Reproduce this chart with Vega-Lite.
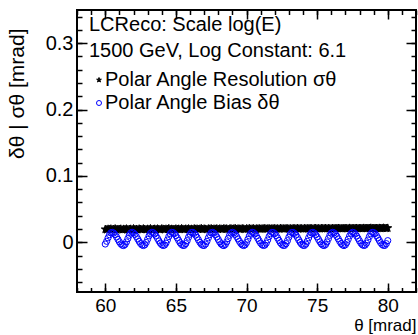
{
  "$schema": "https://vega.github.io/schema/vega-lite/v6.json",
  "width": 339,
  "height": 282,
  "autosize": {"type": "none"},
  "padding": {"left": 77, "top": 10, "right": 2, "bottom": 43},
  "background": "white",
  "config": {
    "view": {"stroke": "black", "strokeWidth": 2},
    "font": "Liberation Sans",
    "axis": {"grid": false, "domain": false, "tickColor": "black", "tickWidth": 1.5, "labelFont": "Liberation Sans", "labelFontSize": 20, "labelColor": "black", "titleFont": "Liberation Sans", "titleFontSize": 21, "titleFontWeight": "normal", "titleColor": "black"}
  },
  "data": {"values": [
{"t":60.0,"res":0.0195,"bias":-0.0027},{"t":60.1,"res":0.0188,"bias":0.0014},{"t":60.2,"res":0.0199,"bias":0.0066},{"t":60.3,"res":0.0192,"bias":0.0113},{"t":60.4,"res":0.0201,"bias":0.0143},
{"t":60.5,"res":0.0190,"bias":0.0149},{"t":60.6,"res":0.0196,"bias":0.0138},{"t":60.7,"res":0.0203,"bias":0.0114},{"t":60.8,"res":0.0189,"bias":0.0080},{"t":60.9,"res":0.0197,"bias":0.0043},
{"t":61.0,"res":0.0193,"bias":0.0006},{"t":61.1,"res":0.0200,"bias":-0.0025},{"t":61.2,"res":0.0187,"bias":-0.0044},{"t":61.3,"res":0.0198,"bias":-0.0050},{"t":61.4,"res":0.0194,"bias":-0.0034},
{"t":61.5,"res":0.0202,"bias":0.0005},{"t":61.6,"res":0.0191,"bias":0.0055},{"t":61.7,"res":0.0196,"bias":0.0104},{"t":61.8,"res":0.0199,"bias":0.0139},{"t":61.9,"res":0.0190,"bias":0.0150},
{"t":62.0,"res":0.0204,"bias":0.0141},{"t":62.1,"res":0.0193,"bias":0.0119},{"t":62.2,"res":0.0197,"bias":0.0087},{"t":62.3,"res":0.0189,"bias":0.0050},{"t":62.4,"res":0.0201,"bias":0.0013},
{"t":62.5,"res":0.0195,"bias":-0.0019},{"t":62.6,"res":0.0192,"bias":-0.0041},{"t":62.7,"res":0.0203,"bias":-0.0050},{"t":62.8,"res":0.0196,"bias":-0.0039},{"t":62.9,"res":0.0190,"bias":-0.0004},
{"t":63.0,"res":0.0199,"bias":0.0045},{"t":63.1,"res":0.0194,"bias":0.0095},{"t":63.2,"res":0.0205,"bias":0.0134},{"t":63.3,"res":0.0191,"bias":0.0150},{"t":63.4,"res":0.0197,"bias":0.0144},
{"t":63.5,"res":0.0200,"bias":0.0125},{"t":63.6,"res":0.0193,"bias":0.0094},{"t":63.7,"res":0.0202,"bias":0.0058},{"t":63.8,"res":0.0196,"bias":0.0020},{"t":63.9,"res":0.0189,"bias":-0.0014},
{"t":64.0,"res":0.0203,"bias":-0.0038},{"t":64.1,"res":0.0198,"bias":-0.0049},{"t":64.2,"res":0.0192,"bias":-0.0043},{"t":64.3,"res":0.0200,"bias":-0.0013},{"t":64.4,"res":0.0195,"bias":0.0034},
{"t":64.5,"res":0.0206,"bias":0.0086},{"t":64.6,"res":0.0193,"bias":0.0128},{"t":64.7,"res":0.0199,"bias":0.0149},{"t":64.8,"res":0.0197,"bias":0.0146},{"t":64.9,"res":0.0191,"bias":0.0130},
{"t":65.0,"res":0.0202,"bias":0.0101},{"t":65.1,"res":0.0196,"bias":0.0065},{"t":65.2,"res":0.0200,"bias":0.0027},{"t":65.3,"res":0.0194,"bias":-0.0008},{"t":65.4,"res":0.0205,"bias":-0.0034},
{"t":65.5,"res":0.0198,"bias":-0.0048},{"t":65.6,"res":0.0192,"bias":-0.0047},{"t":65.7,"res":0.0201,"bias":-0.0021},{"t":65.8,"res":0.0197,"bias":0.0024},{"t":65.9,"res":0.0203,"bias":0.0076},
{"t":66.0,"res":0.0195,"bias":0.0121},{"t":66.1,"res":0.0199,"bias":0.0147},{"t":66.2,"res":0.0193,"bias":0.0148},{"t":66.3,"res":0.0204,"bias":0.0134},{"t":66.4,"res":0.0198,"bias":0.0108},
{"t":66.5,"res":0.0201,"bias":0.0073},{"t":66.6,"res":0.0194,"bias":0.0035},{"t":66.7,"res":0.0200,"bias":-0.0001},{"t":66.8,"res":0.0207,"bias":-0.0030},{"t":66.9,"res":0.0196,"bias":-0.0046},
{"t":67.0,"res":0.0202,"bias":-0.0049},{"t":67.1,"res":0.0198,"bias":-0.0028},{"t":67.2,"res":0.0193,"bias":0.0014},{"t":67.3,"res":0.0203,"bias":0.0066},{"t":67.4,"res":0.0199,"bias":0.0113},
{"t":67.5,"res":0.0205,"bias":0.0143},{"t":67.6,"res":0.0196,"bias":0.0149},{"t":67.7,"res":0.0201,"bias":0.0138},{"t":67.8,"res":0.0198,"bias":0.0114},{"t":67.9,"res":0.0204,"bias":0.0080},
{"t":68.0,"res":0.0195,"bias":0.0042},{"t":68.1,"res":0.0202,"bias":0.0006},{"t":68.2,"res":0.0200,"bias":-0.0025},{"t":68.3,"res":0.0197,"bias":-0.0044},{"t":68.4,"res":0.0206,"bias":-0.0050},
{"t":68.5,"res":0.0199,"bias":-0.0034},{"t":68.6,"res":0.0203,"bias":0.0005},{"t":68.7,"res":0.0196,"bias":0.0055},{"t":68.8,"res":0.0201,"bias":0.0104},{"t":68.9,"res":0.0205,"bias":0.0139},
{"t":69.0,"res":0.0198,"bias":0.0150},{"t":69.1,"res":0.0202,"bias":0.0141},{"t":69.2,"res":0.0208,"bias":0.0119},{"t":69.3,"res":0.0197,"bias":0.0087},{"t":69.4,"res":0.0203,"bias":0.0050},
{"t":69.5,"res":0.0200,"bias":0.0013},{"t":69.6,"res":0.0199,"bias":-0.0019},{"t":69.7,"res":0.0205,"bias":-0.0041},{"t":69.8,"res":0.0201,"bias":-0.0050},{"t":69.9,"res":0.0196,"bias":-0.0039},
{"t":70.0,"res":0.0204,"bias":-0.0004},{"t":70.1,"res":0.0200,"bias":0.0045},{"t":70.2,"res":0.0207,"bias":0.0095},{"t":70.3,"res":0.0199,"bias":0.0134},{"t":70.4,"res":0.0202,"bias":0.0150},
{"t":70.5,"res":0.0205,"bias":0.0144},{"t":70.6,"res":0.0198,"bias":0.0125},{"t":70.7,"res":0.0203,"bias":0.0094},{"t":70.8,"res":0.0201,"bias":0.0058},{"t":70.9,"res":0.0206,"bias":0.0020},
{"t":71.0,"res":0.0199,"bias":-0.0014},{"t":71.1,"res":0.0204,"bias":-0.0038},{"t":71.2,"res":0.0202,"bias":-0.0049},{"t":71.3,"res":0.0208,"bias":-0.0043},{"t":71.4,"res":0.0200,"bias":-0.0013},
{"t":71.5,"res":0.0203,"bias":0.0034},{"t":71.6,"res":0.0206,"bias":0.0086},{"t":71.7,"res":0.0199,"bias":0.0128},{"t":71.8,"res":0.0205,"bias":0.0149},{"t":71.9,"res":0.0202,"bias":0.0146},
{"t":72.0,"res":0.0207,"bias":0.0130},{"t":72.1,"res":0.0201,"bias":0.0101},{"t":72.2,"res":0.0204,"bias":0.0065},{"t":72.3,"res":0.0200,"bias":0.0027},{"t":72.4,"res":0.0209,"bias":-0.0008},
{"t":72.5,"res":0.0203,"bias":-0.0034},{"t":72.6,"res":0.0205,"bias":-0.0048},{"t":72.7,"res":0.0201,"bias":-0.0047},{"t":72.8,"res":0.0207,"bias":-0.0021},{"t":72.9,"res":0.0204,"bias":0.0024},
{"t":73.0,"res":0.0202,"bias":0.0076},{"t":73.1,"res":0.0206,"bias":0.0121},{"t":73.2,"res":0.0200,"bias":0.0147},{"t":73.3,"res":0.0208,"bias":0.0148},{"t":73.4,"res":0.0204,"bias":0.0134},
{"t":73.5,"res":0.0203,"bias":0.0108},{"t":73.6,"res":0.0210,"bias":0.0073},{"t":73.7,"res":0.0202,"bias":0.0035},{"t":73.8,"res":0.0206,"bias":-0.0001},{"t":73.9,"res":0.0205,"bias":-0.0030},
{"t":74.0,"res":0.0201,"bias":-0.0046},{"t":74.1,"res":0.0208,"bias":-0.0049},{"t":74.2,"res":0.0204,"bias":-0.0028},{"t":74.3,"res":0.0207,"bias":0.0014},{"t":74.4,"res":0.0203,"bias":0.0066},
{"t":74.5,"res":0.0209,"bias":0.0113},{"t":74.6,"res":0.0205,"bias":0.0143},{"t":74.7,"res":0.0202,"bias":0.0149},{"t":74.8,"res":0.0207,"bias":0.0138},{"t":74.9,"res":0.0210,"bias":0.0114},
{"t":75.0,"res":0.0204,"bias":0.0080},{"t":75.1,"res":0.0206,"bias":0.0042},{"t":75.2,"res":0.0203,"bias":0.0006},{"t":75.3,"res":0.0209,"bias":-0.0025},{"t":75.4,"res":0.0207,"bias":-0.0044},
{"t":75.5,"res":0.0205,"bias":-0.0050},{"t":75.6,"res":0.0211,"bias":-0.0034},{"t":75.7,"res":0.0204,"bias":0.0005},{"t":75.8,"res":0.0208,"bias":0.0055},{"t":75.9,"res":0.0206,"bias":0.0104},
{"t":76.0,"res":0.0203,"bias":0.0139},{"t":76.1,"res":0.0210,"bias":0.0150},{"t":76.2,"res":0.0207,"bias":0.0141},{"t":76.3,"res":0.0205,"bias":0.0119},{"t":76.4,"res":0.0209,"bias":0.0087},
{"t":76.5,"res":0.0212,"bias":0.0050},{"t":76.6,"res":0.0206,"bias":0.0013},{"t":76.7,"res":0.0208,"bias":-0.0019},{"t":76.8,"res":0.0204,"bias":-0.0041},{"t":76.9,"res":0.0211,"bias":-0.0050},
{"t":77.0,"res":0.0207,"bias":-0.0039},{"t":77.1,"res":0.0209,"bias":-0.0004},{"t":77.2,"res":0.0205,"bias":0.0045},{"t":77.3,"res":0.0213,"bias":0.0095},{"t":77.4,"res":0.0208,"bias":0.0134},
{"t":77.5,"res":0.0206,"bias":0.0150},{"t":77.6,"res":0.0210,"bias":0.0144},{"t":77.7,"res":0.0208,"bias":0.0125},{"t":77.8,"res":0.0212,"bias":0.0094},{"t":77.9,"res":0.0207,"bias":0.0058},
{"t":78.0,"res":0.0209,"bias":0.0020},{"t":78.1,"res":0.0211,"bias":-0.0014},{"t":78.2,"res":0.0206,"bias":-0.0038},{"t":78.3,"res":0.0213,"bias":-0.0049},{"t":78.4,"res":0.0210,"bias":-0.0043},
{"t":78.5,"res":0.0208,"bias":-0.0013},{"t":78.6,"res":0.0212,"bias":0.0034},{"t":78.7,"res":0.0209,"bias":0.0086},{"t":78.8,"res":0.0214,"bias":0.0128},{"t":78.9,"res":0.0210,"bias":0.0149},
{"t":79.0,"res":0.0208,"bias":0.0146},{"t":79.1,"res":0.0212,"bias":0.0130},{"t":79.2,"res":0.0211,"bias":0.0101},{"t":79.3,"res":0.0209,"bias":0.0065},{"t":79.4,"res":0.0213,"bias":0.0027},
{"t":79.5,"res":0.0210,"bias":-0.0008},{"t":79.6,"res":0.0212,"bias":-0.0034},{"t":79.7,"res":0.0215,"bias":-0.0048},{"t":79.8,"res":0.0211,"bias":-0.0047},{"t":79.9,"res":0.0210,"bias":-0.0021},
{"t":80.0,"res":0.0213,"bias":0.0024}
  ]},
  "transform": [{"fold": ["res", "bias"], "as": ["series", "value"]}],
  "layer": [
    {
      "transform": [{"filter": "datum.series == 'res'"}],
      "mark": {"type": "point", "size": 70, "strokeWidth": 1, "opacity": 1},
      "encoding": {
        "x": {"field": "t", "type": "quantitative", "scale": {"domain": [58, 82], "nice": false, "zero": false},
              "axis": {"orient": "bottom", "values": [60, 65, 70, 75, 80], "tickSize": -9, "labelPadding": 13, "labelFontSize": 19, "title": "θ [mrad]", "titleFontSize": 17, "titleAnchor": "end", "titleAlign": "right", "titleBaseline": "bottom", "titleX": 339, "titleY": 42.5}},
        "y": {"field": "value", "type": "quantitative", "scale": {"domain": [-0.075, 0.35], "nice": false, "zero": false},
              "axis": {"orient": "left", "values": [0, 0.1, 0.2, 0.3], "format": "~g", "tickSize": -10, "labelPadding": 14, "title": "δθ | σθ [mrad]", "titleAngle": -90, "titleAlign": "right", "titleBaseline": "middle", "titleX": -60, "titleY": 18}},
        "shape": {"field": "series", "type": "nominal",
                  "scale": {"domain": ["res", "bias"], "range": ["M0,-1L0.225,-0.309L0.951,-0.309L0.363,0.118L0.588,0.809L0,0.382L-0.588,0.809L-0.363,0.118L-0.951,-0.309L-0.225,-0.309Z", "circle"]},
                  "legend": {"orient": "none", "legendX": 12, "legendY": 5, "padding": 0,
                             "title": ["LCReco: Scale log(E)", "1500 GeV, Log Constant: 6.1"],
                             "titleFont": "Liberation Sans", "titleFontSize": 20, "titleFontWeight": "normal", "titleColor": "black", "titleLineHeight": 26, "titlePadding": 9, "titleLimit": 400,
                             "labelFont": "Liberation Sans", "labelFontSize": 20, "labelColor": "black", "labelOffset": -4, "labelLimit": 400, "symbolOffset": 0, "symbolSize": 25, "symbolStrokeWidth": 1, "rowPadding": 3,
                             "labelExpr": "datum.label == 'res' ? 'Polar Angle Resolution σθ' : 'Polar Angle Bias δθ'"}},
        "fill": {"field": "series", "type": "nominal", "scale": {"domain": ["res", "bias"], "range": ["black", "transparent"]}},
        "stroke": {"field": "series", "type": "nominal", "scale": {"domain": ["res", "bias"], "range": ["black", "blue"]}}
      }
    },
    {
      "transform": [{"filter": "datum.series == 'bias'"}],
      "mark": {"type": "point", "size": 38, "strokeWidth": 1, "opacity": 1},
      "encoding": {
        "x": {"field": "t", "type": "quantitative", "axis": {"orient": "bottom", "values": [58,59,60,61,62,63,64,65,66,67,68,69,70,71,72,73,74,75,76,77,78,79,80,81,82], "tickSize": -4.5, "labels": false, "title": null}},
        "y": {"field": "value", "type": "quantitative", "axis": {"orient": "left", "values": [-0.06,-0.04,-0.02,0,0.02,0.04,0.06,0.08,0.1,0.12,0.14,0.16,0.18,0.2,0.22,0.24,0.26,0.28,0.3,0.32,0.34], "tickSize": -5, "labels": false, "title": null}},
        "shape": {"field": "series", "type": "nominal"},
        "fill": {"field": "series", "type": "nominal"},
        "stroke": {"field": "series", "type": "nominal"}
      }
    },
    {
      "mark": {"type": "point", "opacity": 0},
      "encoding": {
        "x": {"field": "t", "type": "quantitative", "axis": {"orient": "top", "values": [60, 65, 70, 75, 80], "tickSize": -9, "labels": false, "title": null}},
        "y": {"field": "value", "type": "quantitative", "axis": {"orient": "right", "values": [0, 0.1, 0.2, 0.3], "tickSize": -10, "labels": false, "title": null}}
      }
    },
    {
      "mark": {"type": "point", "opacity": 0},
      "encoding": {
        "x": {"field": "t", "type": "quantitative", "axis": {"orient": "top", "values": [58,59,60,61,62,63,64,65,66,67,68,69,70,71,72,73,74,75,76,77,78,79,80,81,82], "tickSize": -4.5, "labels": false, "title": null}},
        "y": {"field": "value", "type": "quantitative", "axis": {"orient": "right", "values": [-0.06,-0.04,-0.02,0,0.02,0.04,0.06,0.08,0.1,0.12,0.14,0.16,0.18,0.2,0.22,0.24,0.26,0.28,0.3,0.32,0.34], "tickSize": -5, "labels": false, "title": null}}
      }
    }
  ],
  "resolve": {"axis": {"x": "independent", "y": "independent"}}
}
